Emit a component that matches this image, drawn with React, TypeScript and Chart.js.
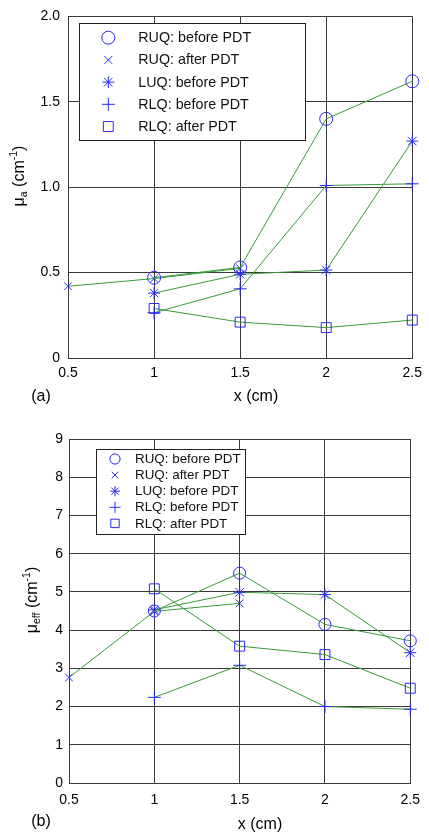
import React, { useEffect, useRef } from "react";
import { Chart, registerables } from "chart.js";
import { drawPoint } from "chart.js/helpers";

Chart.register(...registerables);

// ---------- data ----------
const xValues = [0.5, 1, 1.5, 2, 2.5];
const xTickLabels = ["0.5", "1", "1.5", "2", "2.5"];
const seriesLabels = ["RUQ: before PDT", "RUQ: after PDT", "LUQ: before PDT", "RLQ: before PDT", "RLQ: after PDT"];
const pointStyles = ["circle", "crossRot", "star", "cross", "rect"];

// panel (a): mu_a (cm^-1)
const muaRuqBefore = [null, 0.47, 0.53, 1.4, 1.62];
const muaRuqAfter = [0.42, 0.465, 0.525, null, null];
const muaLuqBefore = [null, 0.38, 0.49, 0.515, 1.27];
const muaRlqBefore = [null, 0.265, 0.405, 1.01, 1.02];
const muaRlqAfter = [null, 0.29, 0.21, 0.178, 0.222];
const muaYTickLabels = ["0", "0.5", "1.0", "1.5", "2.0"];

// panel (b): mu_eff (cm^-1)
const mueffRuqBefore = [null, 4.5, 5.49, 4.15, 3.72];
const mueffRuqAfter = [2.76, 4.49, 4.7, null, null];
const mueffLuqBefore = [null, 4.53, 4.99, 4.93, 3.41];
const mueffRlqBefore = [null, 2.24, 3.08, 2.0, 1.93];
const mueffRlqAfter = [null, 5.08, 3.58, 3.36, 2.48];
const mueffYTickLabels = ["0", "1", "2", "3", "4", "5", "6", "7", "8", "9"];

// ---------- style ----------
const BLUE = "#2a2af2";
const GREEN = "#379a37";
const GRID = "#3a3a3a";
const FONT = "'Liberation Sans', Arial, sans-serif";
const W = 429;
const H = 420;

type Box = { left: number; top: number; right: number; bottom: number };
type Panel = {
  series: (number | null)[][];
  yMax: number;
  yStep: number;
  yTickLabels: string[];
  area: Box;
  radii: number[];
  legend: Box & { rowY0: number; rowStep: number; markerX: number; textX: number; font: number; rScale: number };
  ySub: string;
  yTitle: { x: number; y: number };
  xTitle: { x: number; y: number };
  tag: string;
  tagPos: { x: number; y: number };
  yTickPad: number;
  xTickPad: number;
};

const panelA: Panel = {
  series: [muaRuqBefore, muaRuqAfter, muaLuqBefore, muaRlqBefore, muaRlqAfter],
  yMax: 2,
  yStep: 0.5,
  yTickLabels: muaYTickLabels,
  area: { left: 68, top: 14, right: 413, bottom: 358 },
  radii: [6.5, 5.5, 6, 6.5, 7],
  legend: { left: 79, top: 23, right: 305, bottom: 140, rowY0: 37.7, rowStep: 22.2, markerX: 108.3, textX: 138.3, font: 14.3, rScale: 1 },
  ySub: "a",
  yTitle: { x: 20, y: 176 },
  xTitle: { x: 256, y: 397 },
  tag: "(a)",
  tagPos: { x: 41, y: 397 },
  yTickPad: 8,
  xTickPad: 7,
};

const panelB: Panel = {
  series: [mueffRuqBefore, mueffRuqAfter, mueffLuqBefore, mueffRlqBefore, mueffRlqAfter],
  yMax: 9,
  yStep: 1,
  yTickLabels: mueffYTickLabels,
  area: { left: 69, top: 19, right: 415, bottom: 363 },
  radii: [6, 5.5, 6, 6.5, 7],
  legend: { left: 96, top: 29, right: 245, bottom: 114, rowY0: 39, rowStep: 16.1, markerX: 115, textX: 135, font: 13.4, rScale: 0.85 },
  ySub: "eff",
  yTitle: { x: 33, y: 180 },
  xTitle: { x: 260, y: 405 },
  tag: "(b)",
  tagPos: { x: 41, y: 402 },
  yTickPad: 6,
  xTickPad: 9,
};

function drawYTitle(ctx: CanvasRenderingContext2D, cx: number, cy: number, sub: string) {
  const main = `16px ${FONT}`;
  const small = `10.5px ${FONT}`;
  const parts = [
    { t: "μ", f: main, dy: 0 },
    { t: sub, f: small, dy: 4 },
    { t: " (cm", f: main, dy: 0 },
    { t: "-1", f: small, dy: -6 },
    { t: ")", f: main, dy: 0 },
  ];
  let total = 0;
  const widths = parts.map((p) => {
    ctx.font = p.f;
    const w = ctx.measureText(p.t).width;
    total += w;
    return w;
  });
  ctx.save();
  ctx.translate(cx, cy);
  ctx.rotate(-Math.PI / 2);
  ctx.fillStyle = "#000";
  ctx.textAlign = "left";
  ctx.textBaseline = "middle";
  let x = -total / 2;
  parts.forEach((p, i) => {
    ctx.font = p.f;
    ctx.fillText(p.t, x, p.dy);
    x += widths[i];
  });
  ctx.restore();
}

function makeChart(canvas: HTMLCanvasElement, p: Panel) {
  const datasets = p.series.map((vals, i) => ({
    label: seriesLabels[i],
    data: xValues
      .map((x, j) => ({ x, y: vals[j] }))
      .filter((d) => d.y !== null) as { x: number; y: number }[],
    borderColor: GREEN,
    borderWidth: 1,
    backgroundColor: "rgba(0,0,0,0)",
    fill: false,
    tension: 0,
    clip: false as any,
    pointStyle: pointStyles[i] as any,
    pointRadius: p.radii[i],
    pointHoverRadius: p.radii[i],
    pointBorderColor: BLUE,
    pointBackgroundColor: "rgba(0,0,0,0)",
    pointBorderWidth: 1,
  }));

  const annot = {
    id: "annot",
    afterDraw(chart: any) {
      const ctx: CanvasRenderingContext2D = chart.ctx;
      const L = p.legend;
      ctx.save();
      // legend box
      ctx.fillStyle = "#fff";
      ctx.fillRect(L.left, L.top, L.right - L.left, L.bottom - L.top);
      ctx.strokeStyle = "#222";
      ctx.lineWidth = 1;
      ctx.strokeRect(L.left + 0.5, L.top + 0.5, L.right - L.left, L.bottom - L.top);
      chart.data.datasets.forEach((ds: any, i: number) => {
        const y = L.rowY0 + i * L.rowStep;
        ctx.strokeStyle = BLUE;
        ctx.fillStyle = "rgba(0,0,0,0)";
        ctx.lineWidth = 1;
        drawPoint(ctx, { pointStyle: ds.pointStyle, radius: ds.pointRadius * L.rScale, rotation: 0, borderWidth: 1 } as any, L.markerX, y);
        ctx.fillStyle = "#111";
        ctx.font = `${L.font}px ${FONT}`;
        ctx.textAlign = "left";
        ctx.textBaseline = "middle";
        ctx.fillText(ds.label, L.textX, y + 0.5);
      });
      // titles
      ctx.fillStyle = "#000";
      ctx.font = `16px ${FONT}`;
      ctx.textAlign = "center";
      ctx.textBaseline = "middle";
      ctx.fillText("x (cm)", p.xTitle.x, p.xTitle.y);
      ctx.fillText(p.tag, p.tagPos.x, p.tagPos.y);
      ctx.restore();
      drawYTitle(ctx, p.yTitle.x, p.yTitle.y, p.ySub);
    },
  };

  return new Chart(canvas, {
    type: "line",
    data: { datasets },
    options: {
      responsive: false,
      animation: false,
      devicePixelRatio: 1,
      events: [],
      layout: { padding: { left: 0, top: p.area.top, right: W - p.area.right, bottom: 0 } },
      plugins: { legend: { display: false }, tooltip: { enabled: false }, title: { display: false } },
      scales: {
        x: {
          type: "linear",
          min: 0.5,
          max: 2.5,
          ticks: {
            stepSize: 0.5,
            color: "#000",
            font: { family: FONT, size: 14 },
            padding: p.xTickPad,
            maxRotation: 0,
            autoSkip: false,
            callback: (_v: any, idx: number) => xTickLabels[idx],
          },
          grid: { color: GRID, lineWidth: 1, drawTicks: false },
          border: { color: GRID, width: 1 },
          afterFit: (s: any) => {
            s.height = H - p.area.bottom;
          },
        },
        y: {
          type: "linear",
          min: 0,
          max: p.yMax,
          ticks: {
            stepSize: p.yStep,
            color: "#000",
            font: { family: FONT, size: 14 },
            padding: p.yTickPad,
            autoSkip: false,
            callback: (_v: any, idx: number) => p.yTickLabels[idx],
          },
          grid: { color: GRID, lineWidth: 1, drawTicks: false },
          border: { color: GRID, width: 1 },
          afterFit: (s: any) => {
            s.width = p.area.left;
          },
        },
      },
    } as any,
    plugins: [annot],
  });
}

function Panel({ panel, top }: { panel: Panel; top: number }) {
  const ref = useRef<HTMLCanvasElement>(null);
  useEffect(() => {
    if (!ref.current) return;
    const chart = makeChart(ref.current, panel);
    return () => chart.destroy();
  }, [panel]);
  return (
    <canvas
      ref={ref}
      width={W}
      height={H}
      style={{ position: "absolute", left: 0, top, width: W, height: H, display: "block" }}
    />
  );
}

export default function App() {
  return (
    <div style={{ position: "absolute", left: 0, top: 0, width: W, height: 2 * H, background: "#fff" }}>
      <Panel panel={panelA} top={0} />
      <Panel panel={panelB} top={H} />
    </div>
  );
}
